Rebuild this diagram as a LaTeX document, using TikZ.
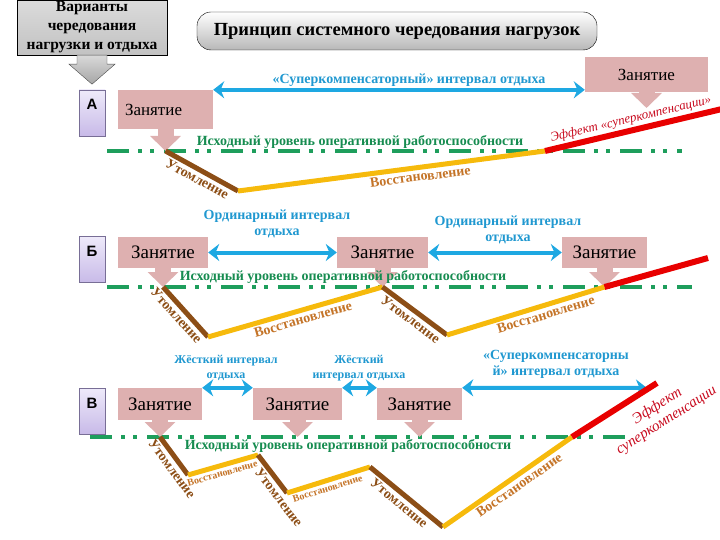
\documentclass[tikz,border=0pt]{standalone}
\usepackage{fontspec}
\setmainfont{Liberation Serif}
\newfontfamily\letterfont{Liberation Sans}
\usetikzlibrary{arrows.meta,calc}

\definecolor{zpink}{RGB}{222,176,176}
\definecolor{zblue}{RGB}{30,168,226}
\definecolor{zbluetxt}{RGB}{32,152,208}
\definecolor{zgreen}{RGB}{30,158,92}
\definecolor{zgreentxt}{RGB}{22,140,80}
\definecolor{zbrown}{RGB}{140,78,22}
\definecolor{zyellow}{RGB}{246,186,12}
\definecolor{zrestore}{RGB}{196,116,40}
\definecolor{zred}{RGB}{232,0,0}
\definecolor{zredtxt}{RGB}{200,10,30}
\definecolor{zlavtop}{RGB}{238,234,250}
\definecolor{zlavbot}{RGB}{200,186,232}
\definecolor{zlavline}{RGB}{120,110,150}

\begin{document}
\begin{tikzpicture}[
        x=1pt, y=-1pt,
        varbox/.style={draw=black, top color=black!14, bottom color=black!24, minimum width=150pt, minimum height=55pt, inner sep=0pt, align=center, font=\bfseries\fontsize{15.5}{19}\selectfont},
        titlebox/.style={draw=black, rounded corners=14pt, top color=white, bottom color=black!28, minimum width=400pt, minimum height=38pt, font=\bfseries\fontsize{18.5}{18.5}\selectfont},
        variant/.style={draw=zlavline, top color=zlavtop, bottom color=zlavbot, minimum width=26pt, minimum height=46pt, inner sep=0pt, text height=20pt, text depth=26pt, font=\letterfont\bfseries\fontsize{15}{15}\selectfont},
        zan/.style={fill=zpink, inner sep=0pt, minimum height=32pt, font=\fontsize{19}{19}\selectfont},
        downarr/.style={zpink, line width=16pt, -{Triangle[length=15pt, width=30pt]}},
        blarr/.style={zblue, line width=4pt, {Stealth[length=11pt, width=17pt]}-{Stealth[length=11pt, width=17pt]}},
        levelline/.style={zgreen, line width=4pt, dash pattern=on 22pt off 9pt on 4pt off 8pt on 4pt off 10pt},
        leveltxt/.style={text=zgreentxt, font=\bfseries\fontsize{14}{14}\selectfont},
        restint/.style={text=zbluetxt, align=center, font=\bfseries\fontsize{14}{16}\selectfont},
        hardint/.style={restint, font=\bfseries\fontsize{12}{15}\selectfont},
        tiredline/.style={zbrown, line width=5pt},
        restline/.style={zyellow, line width=5pt},
        effline/.style={zred, line width=6pt},
        tired/.style={text=zbrown, sloped, below, inner sep=2pt, font=\bfseries\fontsize{14}{14}\selectfont},
        rest/.style={text=zrestore, sloped, below, inner sep=2pt, font=\bfseries\fontsize{14}{14}\selectfont},
        eff/.style={text=zredtxt, sloped, inner sep=2pt, align=center, font=\itshape\fontsize{14}{16}\selectfont}
    ]
        \useasboundingbox (0,0) rectangle (720,540);

        % Header
        \node[varbox] (variants) at (92,27.5) {Варианты\\чередования\\нагрузки и отдыха};
        \draw[draw=black!70, top color=black!15, bottom color=black!35] ($(variants.south)+(-15,0)$) -- ++(30,0) -- ++(0,9) -- ++(8,0) -- ($(variants.south)+(0,29)$) -- ++(-23,-20) -- ++(8,0) -- cycle;
        \node[titlebox] (title) at (397,31) {Принцип системного чередования нагрузок};

        % Variant A
        \node[variant] (va) at (92,113) {А};
        \node[zan, minimum width=95pt, minimum height=39pt, text width=81pt, align=left, font=\fontsize{17}{17}\selectfont] (za1) at (165.5,109.5) {Занятие};
        \node[zan, minimum width=123pt, minimum height=35pt, font=\fontsize{17}{17}\selectfont] (za2) at (646.5,74.5) {Занятие};
        \node[restint] (supa) at (409,80) {«Суперкомпенсаторный» интервал отдыха};
        \draw[blarr] (za1.north east) -- (za1.north east -| za2.west);

        \coordinate (la0) at (107,151);
        \coordinate (la1) at (682,151);
        \draw[levelline] (la0) -- (la1);

        \coordinate (a0) at (165.5,151);
        \coordinate (a1) at (238,191);
        \coordinate (a2) at (545,151);
        \coordinate (a3) at (722,109);
        \coordinate (a2tip) at (646.5,108);
        \draw[downarr] (za1) -- (a0);
        \draw[downarr] (za2) -- (a2tip);
        \node[leveltxt] (levela) at (360,142) {Исходный уровень оперативной работоспособности};
        \draw[tiredline] (a0) -- node[tired, pos=0.5] {Утомление} (a1);
        \draw[restline] (a1) -- node[rest, pos=0.59] {Восстановление} (a2);
        \draw[effline] (a2) -- node[eff, above, pos=0.5, font=\itshape\fontsize{13}{14}\selectfont] {Эффект «суперкомпенсации»} (a3);

        % Variant B
        \node[variant] (vb) at (92,259.5) {Б};
        \node[zan, minimum width=90pt, minimum height=31pt] (zb1) at (163,252.5) {Занятие};
        \node[zan, minimum width=91pt, minimum height=31pt] (zb2) at (382.5,252.5) {Занятие};
        \node[zan, minimum width=85pt, minimum height=31pt] (zb3) at (604.5,252.5) {Занятие};
        \node[restint] (ordb1) at (277,224) {Ординарный интервал\\отдыха};
        \node[restint] (ordb2) at (508,230) {Ординарный интервал\\отдыха};
        \draw[blarr] (zb1) -- (zb2);
        \draw[blarr] (zb2) -- (zb3);

        \coordinate (lb0) at (107,287);
        \coordinate (lb1) at (692,287);
        \draw[levelline] (lb0) -- (lb1);

        \coordinate (b0) at (163,287);
        \coordinate (b1) at (208,337);
        \coordinate (b2) at (382.5,287);
        \coordinate (b3) at (447,335);
        \coordinate (b4) at (604.5,287);
        \coordinate (b5) at (708,258);
        \draw[downarr] (zb1) -- (b0);
        \draw[downarr] (zb2) -- (b2);
        \draw[downarr] (zb3) -- (b4);
        \node[leveltxt] (levelb) at (343,277) {Исходный уровень оперативной работоспособности};
        \draw[tiredline] (b0) -- node[tired, pos=0.45] {Утомление} (b1);
        \draw[restline] (b1) -- node[rest, pos=0.53] {Восстановление} (b2);
        \draw[tiredline] (b2) -- node[tired, pos=0.52] {Утомление} (b3);
        \draw[restline] (b3) -- node[rest, pos=0.61] {Восстановление} (b4);
        \draw[effline] (b4) -- (b5);

        % Variant V
        \node[variant] (vc) at (92,411) {В};
        \node[zan, minimum width=84pt] (zc1) at (160,404) {Занятие};
        \node[zan, minimum width=89pt] (zc2) at (297.5,404) {Занятие};
        \node[zan, minimum width=85pt] (zc3) at (419.5,404) {Занятие};
        \node[hardint] (hardc1) at (226,368) {Жёсткий интервал\\отдыха};
        \node[hardint] (hardc2) at (359,368) {Жёсткий\\интервал отдыха};
        \node[restint] (supc) at (556,364) {«Суперкомпенсаторны\\й» интервал отдыха};
        \coordinate (cfree) at (647,388);
        \draw[blarr] (zc1.north east) -- (zc2.north west);
        \draw[blarr] (zc2.north east) -- (zc3.north west);
        \draw[blarr] (zc3.north east) -- (cfree);

        \coordinate (lc0) at (90,437);
        \coordinate (lc1) at (628,437);
        \draw[levelline] (lc0) -- (lc1);
        \node[leveltxt] (levelc) at (348,446) {Исходный уровень оперативной работоспособности};

        \coordinate (c0) at (160,437);
        \coordinate (c1) at (188,475);
        \coordinate (c2) at (258,455);
        \coordinate (c3) at (287,493);
        \coordinate (c4) at (370,467);
        \coordinate (c5) at (443,527);
        \coordinate (c6) at (572,437);
        \coordinate (c7) at (657,383);
        \draw[downarr] (zc1) -- (c0);
        \draw[downarr] (zc2) -- (zc2.south |- c0);
        \draw[downarr] (zc3) -- (zc3.south |- c0);
        \draw[tiredline] (c0) -- node[tired, pos=0.69] {Утомление} (c1);
        \draw[restline] (c1) -- node[rest, pos=0.46, font=\bfseries\fontsize{10}{10}\selectfont] {Восстановление} (c2);
        \draw[tiredline] (c2) -- node[tired, pos=0.97] {Утомление} (c3);
        \draw[restline] (c3) -- node[rest, pos=0.46, font=\bfseries\fontsize{10}{10}\selectfont] {Восстановление} (c4);
        \draw[tiredline] (c4) -- node[tired, pos=0.48] {Утомление} (c5);
        \draw[restline] (c5) -- node[rest, pos=0.55] {Восстановление} (c6);
        \draw[effline] (c6) -- node[eff, below, pos=0.88, inner sep=10pt, font=\itshape\fontsize{15}{17}\selectfont] {Эффект\\суперкомпенсации} (c7);
    \end{tikzpicture}
\end{document}
